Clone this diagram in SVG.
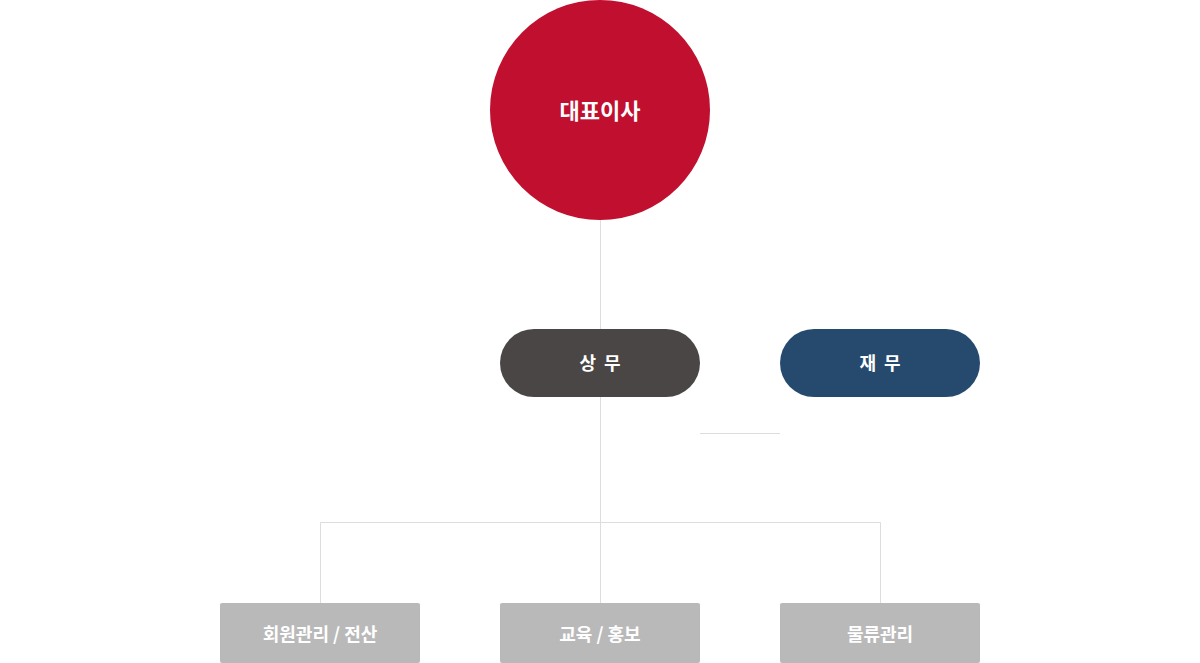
<svg xmlns="http://www.w3.org/2000/svg" width="1200" height="663" viewBox="0 0 1200 663">
<style>
text{font-family:"Noto Sans CJK KR","Noto Sans",sans-serif;font-weight:bold;fill:#fff;text-anchor:middle;dominant-baseline:central}
.ln{stroke:#dddddd;stroke-width:1;fill:none}
.box{fill:#b9b9b9}
.bt{font-size:18px}
.pt{font-size:18px;letter-spacing:2px}
</style>
<rect width="1200" height="663" fill="#fff"/>
<g id="connectors">
<path class="ln" d="M600.5 220V329M600.5 397V603M320.5 603V522.5H880.5V603M700 433.5H780"/>
</g>
<g id="ceo">
<circle cx="600" cy="110" r="110" fill="#c00f2f"/>
<text x="600" y="109" font-size="22">대표이사</text>
</g>
<g id="sangmu">
<rect x="500" y="329" width="200" height="68" rx="34" fill="#4b4646"/>
<text class="pt" x="601" y="362">상 무</text>
</g>
<g id="jaemu">
<rect x="780" y="329" width="200" height="68" rx="34" fill="#264a6e"/>
<text class="pt" x="881" y="362">재 무</text>
</g>
<g id="member">
<rect class="box" x="220" y="603" width="200" height="60" rx="2"/>
<text class="bt" x="320" y="633">회원관리 / 전산</text>
</g>
<g id="edu">
<rect class="box" x="500" y="603" width="200" height="60" rx="2"/>
<text class="bt" x="600" y="633">교육 / 홍보</text>
</g>
<g id="logistics">
<rect class="box" x="780" y="603" width="200" height="60" rx="2"/>
<text class="bt" x="880" y="633">물류관리</text>
</g>
</svg>
